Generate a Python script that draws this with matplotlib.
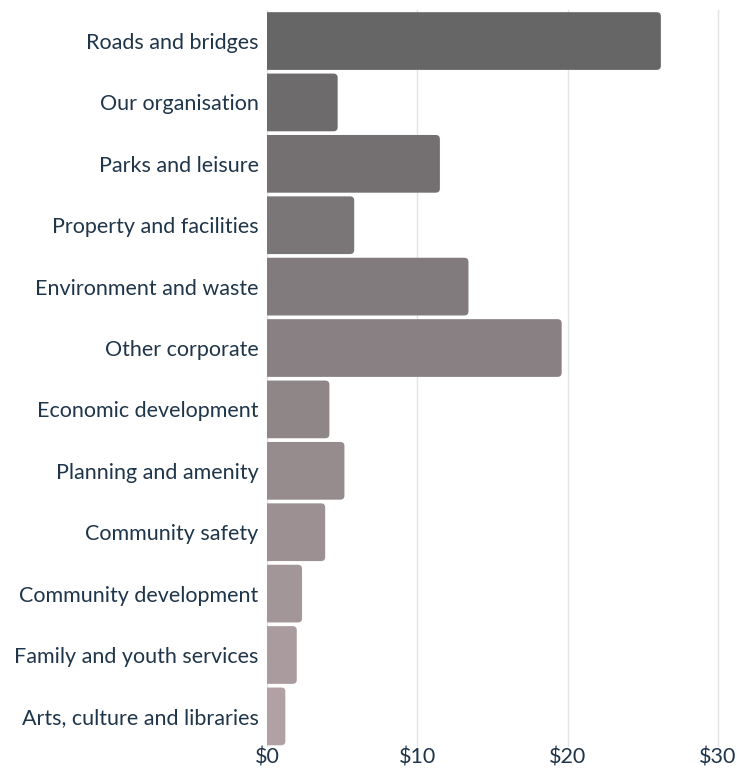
import matplotlib
matplotlib.use("Agg")
import matplotlib.pyplot as plt
from matplotlib.patches import FancyBboxPatch
from matplotlib.colors import LinearSegmentedColormap
import numpy as np

categories = ["Roads and bridges", "Our organisation", "Parks and leisure",
              "Property and facilities", "Environment and waste", "Other corporate",
              "Economic development", "Planning and amenity", "Community safety",
              "Community development", "Family and youth services",
              "Arts, culture and libraries"]
values = [26.2, 4.7, 11.5, 5.8, 13.4, 19.6, 4.15, 5.15, 3.87, 2.33, 1.98, 1.22]
ticks = [0, 10, 20, 30]
tick_labels = ["$0", "$10", "$20", "$30"]

plt.rcParams['font.family'] = ['Lato', 'DejaVu Sans']
text_col = "#1f354a"

fig = plt.figure(figsize=(7.37, 7.71), dpi=100)
ax = fig.add_axes([0.3623, 0.031, 0.6323, 0.9556])

cmap = LinearSegmentedColormap.from_list("grey_pink", ["#666666", "#b1a0a4"])
colors = [cmap(i / (len(values) - 1)) for i in range(len(values))]

y = np.arange(len(categories))
bars = ax.barh(y, values, height=0.94, color=colors)

# swap plain rectangles for ones with slightly rounded corners
for b, c in zip(bars, colors):
    x0, y0, w, h = b.get_x(), b.get_y(), b.get_width(), b.get_height()
    b.remove()
    ax.add_patch(FancyBboxPatch((x0 - 0.5, y0), w + 0.5, h,
                                boxstyle="round,pad=0,rounding_size=0.28",
                                mutation_aspect=0.24, facecolor=c,
                                edgecolor="none", zorder=2))

ax.set_xlim(0, 31)
ax.set_ylim(len(categories) - 0.5, -0.5)
ax.set_yticks(y)
ax.set_yticklabels(categories, fontsize=15.5, color=text_col)
ax.set_xticks(ticks)
ax.set_xticklabels(tick_labels, fontsize=15.5, color=text_col)
ax.tick_params(axis="both", length=0)
ax.tick_params(axis="y", pad=6)
ax.tick_params(axis="x", pad=0)

ax.grid(axis="x", color="#e3e3e3", linewidth=1, zorder=0)
ax.set_axisbelow(True)
for s in ax.spines.values():
    s.set_visible(False)

fig.savefig("out.png", dpi=100, facecolor="white")
